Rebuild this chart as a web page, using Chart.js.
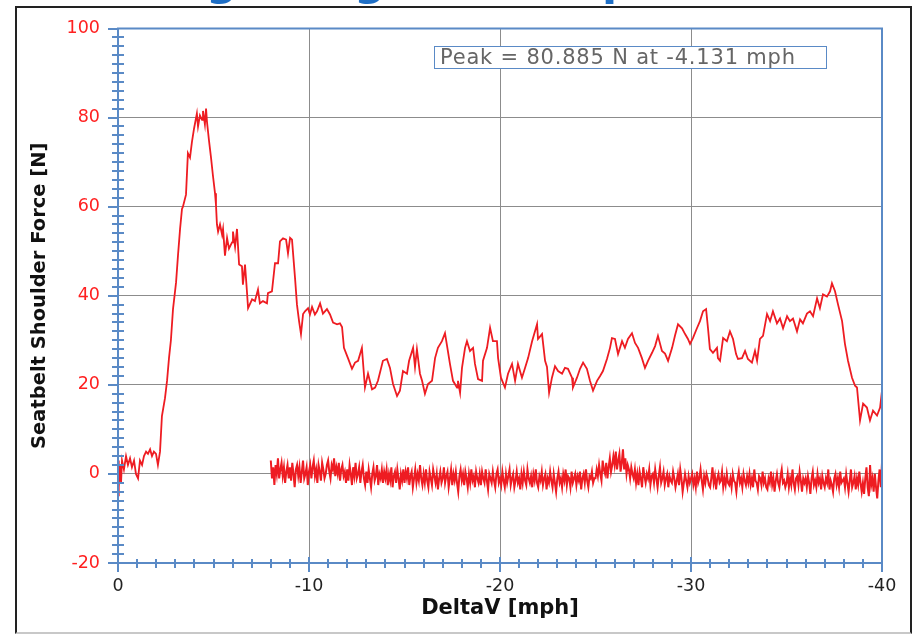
<!DOCTYPE html>
<html>
<head>
<meta charset="utf-8">
<script src="https://cdn.jsdelivr.net/npm/chart.js@4.4.1/dist/chart.umd.min.js"></script>
<style>
  html, body { margin: 0; padding: 0; background: #fff; }
  #wrap { position: relative; width: 914px; height: 634px; overflow: hidden; background: #fff; }
  #c { position: absolute; left: 0; top: 0; }
  #frame { position: absolute; left: 15px; top: 6px; width: 893px; height: 624px;
           border-left: 2px solid #222; border-top: 2px solid #222; border-right: 2px solid #222;
           border-bottom: 2px solid #c8c8c8; pointer-events: none; }
  #titleStrip { position: absolute; left: 0; top: 0; width: 914px; height: 6px; overflow: hidden; }
  #titleStrip span { position: absolute; top: -42px; font: bold 44px/44px "DejaVu Sans", sans-serif; color: #1f6fc6; }
  #peak { position: absolute; left: 434px; top: 46px; width: 386px; height: 21px; padding-left: 5px;
          border: 1.5px solid #5a8ac6; background: #fff; color: #666;
          font: 21px/21px "DejaVu Sans", sans-serif; letter-spacing: 0.8px; white-space: nowrap; }
</style>
</head>
<body>
<div id="wrap">
  <canvas id="c" width="914" height="634"></canvas>
  <div id="titleStrip"><span style="left:206px">g</span><span style="left:354px">g</span><span style="left:602px">p</span></div>
  <div id="frame"></div>
  <div id="peak">Peak = 80.885 N at -4.131 mph</div>
</div>
<script>
// ---------------- DATA ----------------
// Main seatbelt shoulder force trace (DeltaV [mph], Force [N])
const mainDeltaV = [
  0, -0.03, -0.05, -0.10, -0.16, -0.21, -0.31, -0.42, -0.52, -0.63, -0.73, -0.84, -0.94, -1.05, -1.15, -1.26,
  -1.36, -1.47, -1.57, -1.68, -1.78, -1.88, -1.99, -2.09, -2.20, -2.30, -2.46, -2.57, -2.67, -2.77, -2.88, -3.04,
  -3.14, -3.25, -3.35, -3.40, -3.56, -3.66, -3.77, -3.87, -3.98, -4.13, -4.19, -4.29, -4.40, -4.45, -4.55, -4.61,
  -4.66, -4.76, -4.87, -4.97, -5.08, -5.13, -5.18, -5.24, -5.34, -5.45, -5.50, -5.60, -5.71, -5.81, -5.97, -6.02,
  -6.13, -6.23, -6.34, -6.49, -6.54, -6.65, -6.75, -6.81, -7.02, -7.17, -7.33, -7.43, -7.59, -7.80, -7.85, -8.06,
  -8.22, -8.38, -8.48, -8.64, -8.80, -8.90, -9.01, -9.11, -9.27, -9.37, -9.48, -9.58, -9.69, -9.79, -9.95, -10.05,
  -10.16, -10.31, -10.42, -10.58, -10.73, -10.94, -11.10, -11.26, -11.47, -11.62, -11.73, -11.83, -12.04, -12.25, -12.41, -12.57,
  -12.77, -12.93, -13.09, -13.30, -13.46, -13.61, -13.87, -14.08, -14.24, -14.40, -14.61, -14.76, -14.92, -15.13, -15.24, -15.45,
  -15.55, -15.65, -15.81, -15.92, -16.07, -16.23, -16.44, -16.60, -16.75, -16.96, -17.12, -17.23, -17.38, -17.54, -17.75, -17.80,
  -17.91, -18.01, -18.17, -18.27, -18.43, -18.59, -18.69, -18.85, -19.06, -19.11, -19.32, -19.48, -19.63, -19.84, -19.90, -20.05,
  -20.26, -20.42, -20.63, -20.79, -20.94, -21.15, -21.31, -21.47, -21.68, -21.94, -21.99, -22.20, -22.36, -22.46, -22.57, -22.72,
  -22.88, -23.04, -23.25, -23.40, -23.56, -23.77, -23.82, -24.03, -24.19, -24.35, -24.55, -24.71, -24.87, -25.08, -25.24, -25.39,
  -25.60, -25.76, -25.86, -26.02, -26.18, -26.39, -26.54, -26.70, -26.91, -27.07, -27.23, -27.43, -27.59, -27.75, -27.96, -28.12,
  -28.27, -28.48, -28.64, -28.80, -29.01, -29.16, -29.32, -29.53, -29.69, -29.84, -29.95, -30.10, -30.31, -30.47, -30.63, -30.79,
  -30.89, -30.99, -31.15, -31.36, -31.41, -31.52, -31.68, -31.88, -32.04, -32.20, -32.36, -32.46, -32.67, -32.83, -32.98, -33.19,
  -33.35, -33.46, -33.61, -33.77, -33.98, -34.14, -34.29, -34.50, -34.66, -34.82, -35.03, -35.18, -35.34, -35.55, -35.71, -35.86,
  -36.07, -36.23, -36.39, -36.60, -36.75, -36.91, -37.12, -37.28, -37.38, -37.54, -37.70, -37.91, -38.06, -38.22, -38.43, -38.59,
  -38.69, -38.85, -39.01, -39.21, -39.37, -39.53, -39.74, -39.90, -40.00
];
const mainForce = [
  3, -5, -3, 2, -2, 3, 1, 4, 2, 3.5, 1.5, 3, 0, -1, 3, 2,
  4, 5, 4.5, 5.5, 4, 5, 4.5, 2, 5, 13, 17, 21, 26, 30, 37, 43,
  49, 55, 59.5, 60, 62.7, 72, 71, 74.5, 77.5, 80.9, 78, 80.5, 79.5, 81.5, 78.5, 82,
  79, 75, 71, 67, 63, 60.4, 56, 54.4, 56, 53.7, 55, 49, 53, 50.6, 52, 54.4,
  51, 55, 47, 46.6, 42.5, 47, 41, 37.2, 39.2, 38.8, 41.4, 38.3, 38.8, 38.3, 40.6, 41,
  47.3, 47.3, 52.2, 52.9, 52.6, 49.5, 53, 52.6, 43.9, 38, 34.3, 31.4, 35.9, 36.5, 37.2, 35.8,
  37.5, 35.8, 36.5, 38.3, 36, 37, 35.8, 34, 33.6, 33.8, 33, 28.3, 26, 23.6, 25, 25.4,
  28.3, 19.4, 22.5, 19, 19.4, 20.9, 25.4, 25.8, 23.8, 20.2, 17.5, 18.7, 23.1, 22.5, 25.4, 28.3,
  24, 28, 22.5, 20.9, 18, 20.2, 20.9, 26, 28.3, 29.8, 31.6, 28.7, 24.7, 20.9, 19.4, 20.9,
  18.2, 23.8, 28.3, 29.8, 27.6, 28.3, 24.7, 21.3, 20.9, 25.4, 28.3, 32.8, 29.8, 29.8, 26, 21.6,
  19.4, 22.5, 24.7, 20.9, 24.7, 21.6, 23.8, 26, 29.8, 33.6, 30.3, 31.4, 25.4, 24, 18.2, 21.6,
  24.2, 23.1, 22.5, 23.8, 23.6, 21.6, 19.4, 21.6, 23.6, 25, 23.6, 20.9, 18.7, 20.9, 22, 23.1,
  25.8, 28.3, 30.5, 30.3, 26.9, 29.8, 28.3, 30.3, 31.6, 29.4, 28.3, 26, 23.8, 25.4, 27.2, 28.7,
  31, 27.6, 27, 25.4, 28.3, 31, 33.6, 32.7, 31.4, 30.3, 29.2, 30.5, 32.7, 34.3, 36.5, 37,
  32.7, 28, 27.2, 28.3, 26, 25.4, 30.5, 29.8, 32, 30.3, 26.9, 25.8, 26, 27.6, 25.8, 25,
  27.6, 25.4, 30.3, 31, 35.9, 34.3, 36.5, 33.8, 34.9, 32.7, 35.4, 34.3, 34.9, 32, 34.7, 33.8,
  36, 36.5, 35.4, 39.4, 37.2, 40.3, 39.8, 41, 42.8, 41, 38, 34.3, 29.2, 25.4, 21.6, 19.8,
  19.4, 12, 15.8, 14.9, 12, 14.2, 13.1, 14.9, 18.7
];

// Second (noisy baseline) trace, sampled every 0.0625 mph from -8 to -40 mph
const noiseStartDeltaV = -8;
const noiseStepDeltaV = -0.0625;
const noiseForce = [
  3, -1, 1.5, -2.5, 2, 0, 3.5, -1, 1, 2.5, -0.5, 1.5, -2, 0.5, 2, -1,
  1.5, -1.5, 2.5, 0, -3, 1, 2, -0.5, 1.5, -2, 0.5, 3, -1, 0, 1.5, -2.5,
  0.5, 2, -1, 1.5, 3, -0.5, 1, -2, 2, 0.5, -1.5, 2.5, 1, -1, 0, 2,
  3, 0.5, -1, 2, 1, 3.5, -0.5, 1.5, 0, 2.5, -1.5, 1, 2, -0.5, 0.5, -2,
  1, -1.5, 2, 0, -2.5, 1.5, -0.5, 2.5, -1, 0, 1.5, -2, 0.5, 2, -1, -2.5,
  0.5, -2, 1, -1, -3, 0, 1.5, -1.5, -0.5, 2, -2.5, 0, -1, 1, -2, 0.5,
  -1, 1, -2.5, 0, -1.5, 1.5, -3, -0.5, 0.5, -2, 1, -1, -3.5, 0, -1.5, 1,
  -2, 0.5, -1, 1.5, -2.5, -0.5, 0.5, -3, -1, 1, -2, 0, -1.5, 2, -1, -2.5,
  0, -2, 1, -1.5, -3, 0.5, -1, -2.5, 1, -0.5, -2, 0, -3.5, -1, 0.5, -2,
  -1, 1.5, -2, -0.5, 0.5, -3, -1, 1, -2.5, 0, -1.5, 0.5, -2, -4, -0.5, 1,
  -1.5, 0, -2.5, 0.5, -1, -3, 0, -2, 1, -1.5, -0.5, -3, 0.5, -1, -2, 0,
  -2.5, 0.5, -1, -2, 1, -1.5, -3.5, 0, -1, -2, 0.5, -1.5, -3, 0, 1, -2,
  -1, -2.5, 0.5, -1.5, -3, 0, -2, -0.5, 1, -2.5, -1, 0, -3, -1.5, 0.5, -2,
  -1, -3.5, 0, -2, 0.5, -1.5, -2.5, 1, -1, -2, -0.5, -3, 0, -1.5, 1, -2,
  -3, -0.5, -1.5, 0.5, -2.5, -1, 0, -3.5, -1, -2, 0.5, -1.5, -3, 0, -2, -4,
  -1, 0.5, -2, -1, -3, 0, -1.5, 1, -2.5, -0.5, -1, -3, 0.5, -2, -1, 0,
  -2.5, -0.5, -1.5, 0.5, -3.5, -1, 0, -2, 1, -1.5, -3, -0.5, -1, 0.5, -2, -1,
  -1, 1, -0.5, 2, 0, -1.5, 3, 1, 0, 2.5, -1, 1.5, 3.5, 0.5, 2, 4,
  2, 5, 1, 3, 4.5, 0.5, 2.5, 5.5, 1, 3.5, 0, 2, 1, -1, 1.5, 0,
  -1, 1, -2, 0, -2.5, 0.5, -1, -3, 1.5, -0.5, -2, 0, -1, 1, -2.5, -0.5,
  0, -2, 1, -1, -3, -0.5, 1.5, -2, -1, 0.5, -2.5, -1, 0, -3, -0.5, -1.5,
  -2, 0.5, -1, -3, -1.5, 0, -2.5, 1, -1, -4, -2, 0, -1.5, -3, -0.5, -2,
  -1, 0, -2.5, -1, -3, 0.5, -2, -1, 1, -1.5, -3.5, -0.5, -2, 0, -1, -2.5,
  -3, -1, 1.5, -2, -0.5, -3.5, -1, 0, -2, -1.5, 0.5, -3, -1, -2.5, 0, -2,
  -2.5, -1, -3, 0, -1.5, -2, -4, -1, 0.5, -2, -1, -3, 0, -1.5, -2.5, -0.5,
  -2, 0, -2.5, -1, -3, 1, -1.5, -2, -3.5, -0.5, -1, -2.5, 0.5, -2, -1, -3,
  -3.5, -1, -2, 0.5, -2.5, -1, -4, -1.5, 0, -2, -3, -0.5, 1, -2, -1.5, -3,
  -2, 0, -3, -1, -2.5, 1, -2, -3.5, -1, -0.5, -2.5, 0.5, -1.5, -4, -1, -2,
  -1, -3, -0.5, -2, -4.5, -1, 0.5, -2.5, -1.5, -3, 0, -2, -1, -3.5, -0.5, -2,
  -3, -1, -2, 1, -3.5, -1.5, -2.5, -4, -1, 0, -2.5, -1, -3, 0.5, -2, -1.5,
  -1, -3, 0, -2, -4, -1.5, 1, -3, -2, -0.5, -3.5, -1, -2.5, 0.5, -2, -4,
  -2, -4.5, -1, 1.5, -3, -5, 2, -2.5, -1, -4, 0, -3, -5.5, -1.5, 1, -3,
  2.5
];

// Axis ticks
const xTickLabels = [0, -10, -20, -30, -40];
const yTickLabels = [-20, 0, 20, 40, 60, 80, 100];
const xMinorStep = 1;
const yMinorStep = 2;

// ---------------- CHART ----------------
const BLUE = '#5a8ac6';
const RED = 'rgb(238,28,34)';

const mainPoints = mainDeltaV.map((v, i) => ({ x: v, y: mainForce[i] }));
const noisePoints = noiseForce.map((f, i) => ({ x: noiseStartDeltaV + i * noiseStepDeltaV, y: f }));

const axisDecor = {
  id: 'axisDecor',
  afterDraw(chart) {
    const { ctx, chartArea: a, scales: { x, y } } = chart;
    ctx.save();
    ctx.strokeStyle = BLUE;
    ctx.lineWidth = 2;
    ctx.beginPath();
    const yMin = yTickLabels[0], yMax = yTickLabels[yTickLabels.length - 1];
    const ny = Math.round((yMax - yMin) / yMinorStep);
    for (let i = 0; i <= ny; i++) {
      const v = yMin + i * yMinorStep;
      const py = Math.round(y.getPixelForValue(v));
      if (yTickLabels.includes(v)) { ctx.moveTo(a.left - 10, py); ctx.lineTo(a.left, py); }
      else { ctx.moveTo(a.left - 6, py); ctx.lineTo(a.left + 6, py); }
    }
    const xMax = xTickLabels[0], xMin = xTickLabels[xTickLabels.length - 1];
    const nx = Math.round((xMax - xMin) / xMinorStep);
    for (let i = 0; i <= nx; i++) {
      const v = xMax - i * xMinorStep;
      const px = Math.round(x.getPixelForValue(v));
      if (xTickLabels.includes(v)) { ctx.moveTo(px, a.bottom - 6); ctx.lineTo(px, a.bottom + 9); }
      else { ctx.moveTo(px, a.bottom - 4); ctx.lineTo(px, a.bottom + 5); }
    }
    ctx.stroke();
    ctx.lineWidth = 2;
    ctx.strokeRect(a.left, a.top, a.right - a.left, a.bottom - a.top);
    ctx.restore();
  }
};

new Chart(document.getElementById('c'), {
  type: 'line',
  data: {
    datasets: [
      { label: 'Noise', data: noisePoints, borderColor: RED, borderWidth: 2, pointRadius: 0, tension: 0, fill: false },
      { label: 'Seatbelt Shoulder Force', data: mainPoints, borderColor: RED, borderWidth: 1.8, pointRadius: 0, tension: 0, fill: false }
    ]
  },
  options: {
    responsive: false,
    animation: false,
    events: [],
    layout: { padding: { left: 0, top: 26, right: 32, bottom: 0 } },
    plugins: { legend: { display: false }, tooltip: { enabled: false } },
    scales: {
      x: {
        type: 'linear',
        min: -40, max: 0,
        reverse: true,
        afterFit: s => { s.height = 71; },
        border: { display: false },
        grid: { color: '#8c8c8c', lineWidth: 1, drawTicks: false },
        ticks: {
          stepSize: 10, padding: 13, color: '#222',
          font: { family: 'DejaVu Sans', size: 17.5 },
          callback: v => String(v)
        },
        title: {
          display: true, text: 'DeltaV [mph]', color: '#111',
          font: { family: 'DejaVu Sans', size: 21, weight: 'bold' },
          padding: { top: 0, bottom: 13 }
        }
      },
      y: {
        type: 'linear',
        min: -20, max: 100,
        afterFit: s => { s.width = 118; },
        border: { display: false },
        grid: { color: '#8c8c8c', lineWidth: 1, drawTicks: false },
        ticks: {
          stepSize: 20, padding: 18, color: 'rgb(255,32,32)',
          font: { family: 'DejaVu Sans', size: 17.5 },
          callback: v => String(v)
        },
        title: {
          display: true, text: 'Seatbelt Shoulder Force [N]', color: '#111',
          font: { family: 'DejaVu Sans', size: 19.5, weight: 'bold' },
          padding: { top: 28, bottom: 0 }
        }
      }
    }
  },
  plugins: [axisDecor]
});
</script>
</body>
</html>
